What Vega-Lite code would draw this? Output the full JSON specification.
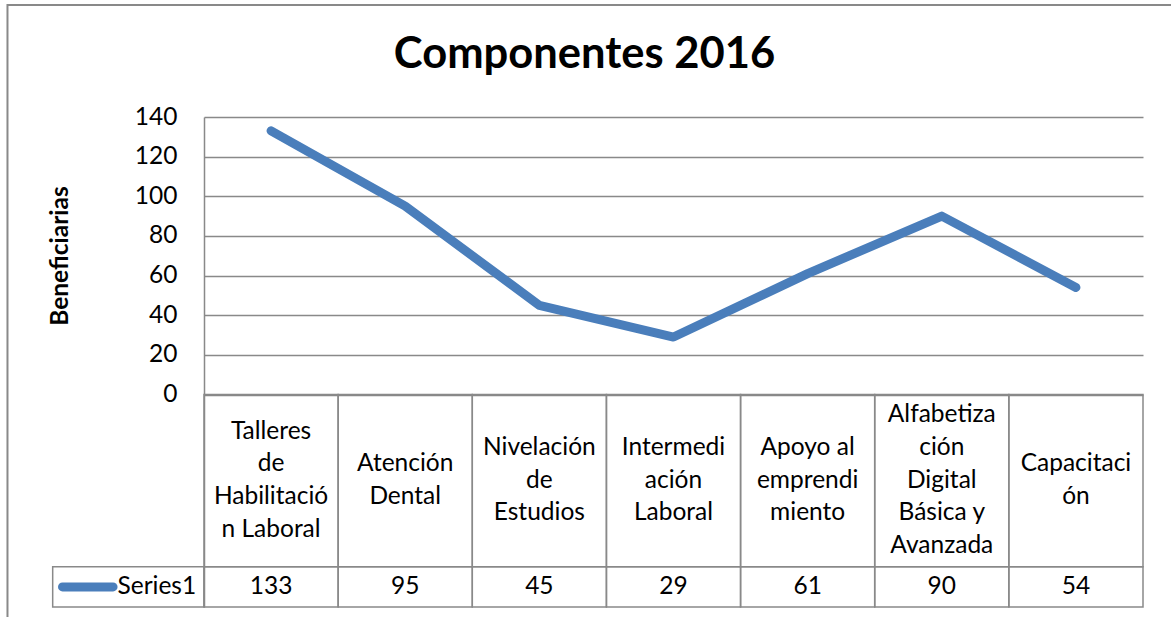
{
  "$schema": "https://vega.github.io/schema/vega-lite/v6.json",
  "width": 939,
  "height": 490,
  "autosize": {"type": "none"},
  "padding": {"left": 204, "top": 117, "right": 28, "bottom": 10},
  "background": "white",
  "config": {"view": {"stroke": null}, "font": "Lato"},
  "title": {
    "text": "Componentes 2016",
    "font": "Lato",
    "fontSize": 43.5,
    "fontWeight": "bold",
    "color": "black",
    "anchor": "middle",
    "frame": "group",
    "dx": -89,
    "baseline": "alphabetic",
    "offset": -107
  },
  "data": {
    "values": [
      {"category": "Talleres de Habilitación Laboral", "label": "Talleres\nde\nHabilitació\nn Laboral", "value": 133},
      {"category": "Atención Dental", "label": "Atención\nDental", "value": 95},
      {"category": "Nivelación de Estudios", "label": "Nivelación\nde\nEstudios", "value": 45},
      {"category": "Intermediación Laboral", "label": "Intermedi\nación\nLaboral", "value": 29},
      {"category": "Apoyo al emprendimiento", "label": "Apoyo al\nemprendi\nmiento", "value": 61},
      {"category": "Alfabetización Digital Básica y Avanzada", "label": "Alfabetiza\nción\nDigital\nBásica y\nAvanzada", "value": 90},
      {"category": "Capacitación", "label": "Capacitaci\nón", "value": 54}
    ]
  },
  "layer": [
    {
      "encoding": {
        "x": {
          "field": "category",
          "type": "nominal",
          "sort": null,
          "scale": {"type": "band", "paddingInner": 0, "paddingOuter": 0},
          "axis": null
        }
      },
      "layer": [
        {
          "mark": {"type": "rect", "fill": "transparent", "stroke": "#898989", "strokeWidth": 1.5},
          "encoding": {
            "y": {
              "datum": 0,
              "type": "quantitative",
              "scale": {"domain": [-107.2, 140], "nice": false, "zero": false},
              "axis": {
                "values": [0, 20, 40, 60, 80, 100, 120, 140],
                "title": "Beneficiarias",
                "titleFont": "Lato",
                "titleFontSize": 24.5,
                "titleFontWeight": "bold",
                "titleColor": "black",
                "titleX": -144,
                "titleY": 138.5,
                "titleAngle": -90,
                "titleAlign": "center",
                "titleBaseline": "middle",
                "grid": true,
                "gridColor": "#898989",
                "gridWidth": 1.5,
                "domain": true,
                "domainColor": "#898989",
                "domainWidth": 1.5,
                "ticks": false,
                "labelPadding": 27,
                "labelFont": "Lato",
                "labelFontSize": 24.5,
                "labelColor": "black"
              }
            },
            "y2": {"datum": -86.9}
          }
        },
        {
          "mark": {"type": "rect", "fill": "transparent", "stroke": "#898989", "strokeWidth": 1.5},
          "encoding": {
            "y": {"datum": -86.9, "type": "quantitative"},
            "y2": {"datum": -107.2}
          }
        },
        {
          "transform": [{"filter": {"field": "category", "oneOf": ["Atención Dental", "Capacitación"]}}],
          "mark": {"type": "text", "font": "Lato", "fontSize": 24.5, "color": "black", "lineBreak": "\n", "lineHeight": 32.7, "align": "center", "baseline": "middle"},
          "encoding": {
            "y": {"datum": -35.19, "type": "quantitative"},
            "text": {"field": "label", "type": "nominal"}
          }
        },
        {
          "transform": [{"filter": {"field": "category", "oneOf": ["Nivelación de Estudios", "Intermediación Laboral", "Apoyo al emprendimiento"]}}],
          "mark": {"type": "text", "font": "Lato", "fontSize": 24.5, "color": "black", "lineBreak": "\n", "lineHeight": 32.7, "align": "center", "baseline": "middle"},
          "encoding": {
            "y": {"datum": -26.94, "type": "quantitative"},
            "text": {"field": "label", "type": "nominal"}
          }
        },
        {
          "transform": [{"filter": {"field": "category", "oneOf": ["Talleres de Habilitación Laboral"]}}],
          "mark": {"type": "text", "font": "Lato", "fontSize": 24.5, "color": "black", "lineBreak": "\n", "lineHeight": 32.7, "align": "center", "baseline": "middle"},
          "encoding": {
            "y": {"datum": -18.7, "type": "quantitative"},
            "text": {"field": "label", "type": "nominal"}
          }
        },
        {
          "transform": [{"filter": {"field": "category", "oneOf": ["Alfabetización Digital Básica y Avanzada"]}}],
          "mark": {"type": "text", "font": "Lato", "fontSize": 24.5, "color": "black", "lineBreak": "\n", "lineHeight": 32.7, "align": "center", "baseline": "middle"},
          "encoding": {
            "y": {"datum": -10.44, "type": "quantitative"},
            "text": {"field": "label", "type": "nominal"}
          }
        },
        {
          "mark": {"type": "text", "font": "Lato", "fontSize": 24.5, "color": "black", "align": "center", "baseline": "middle"},
          "encoding": {
            "y": {"datum": -97.05, "type": "quantitative"},
            "text": {"field": "value", "type": "quantitative"}
          }
        },
        {
          "mark": {"type": "line", "color": "#4A7EBB", "strokeWidth": 9, "strokeCap": "round", "strokeJoin": "round"},
          "encoding": {
            "y": {"field": "value", "type": "quantitative"}
          }
        }
      ]
    },
    {
      "data": {"values": [{"series": "Series1"}]},
      "layer": [
        {
          "mark": {"type": "rect", "fill": "transparent", "stroke": "#898989", "strokeWidth": 2},
          "encoding": {
            "x": {"datum": -1.465, "type": "quantitative", "scale": {"domain": [0, 7], "nice": false, "zero": false}, "axis": null},
            "x2": {"datum": 8},
            "y": {"datum": 196.5, "type": "quantitative"},
            "y2": {"datum": -130}
          }
        },
        {
          "mark": {"type": "rect", "fill": "transparent", "stroke": "#898989", "strokeWidth": 1.5},
          "encoding": {
            "x": {"datum": -1.128, "type": "quantitative"},
            "x2": {"datum": 0},
            "y": {"datum": -86.9, "type": "quantitative"},
            "y2": {"datum": -107.2}
          }
        },
        {
          "mark": {"type": "rule", "color": "#4A7EBB", "strokeWidth": 9, "strokeCap": "round"},
          "encoding": {
            "x": {"datum": -1.055, "type": "quantitative"},
            "x2": {"datum": -0.678},
            "y": {"datum": -97.05, "type": "quantitative"}
          }
        },
        {
          "mark": {"type": "text", "font": "Lato", "fontSize": 24.5, "color": "black", "align": "left", "baseline": "middle"},
          "encoding": {
            "x": {"datum": -0.645, "type": "quantitative"},
            "y": {"datum": -97.05, "type": "quantitative"},
            "text": {"field": "series", "type": "nominal"}
          }
        }
      ]
    }
  ],
  "resolve": {"scale": {"x": "independent"}}
}
